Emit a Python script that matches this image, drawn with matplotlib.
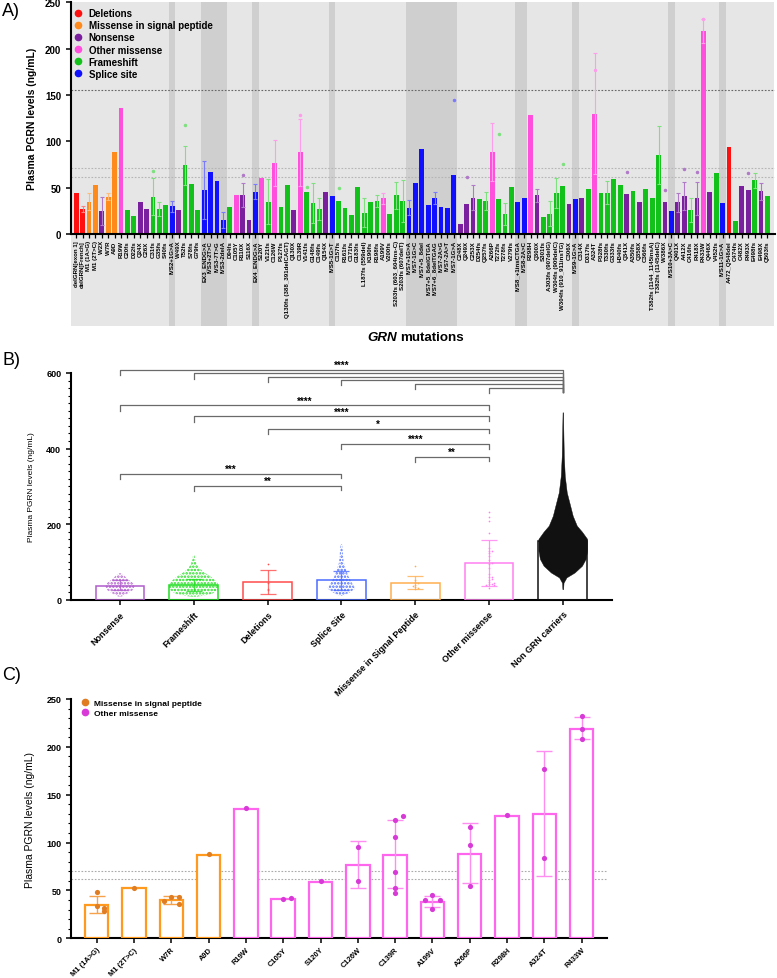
import numpy as np
import matplotlib
matplotlib.use('Agg')
import matplotlib.pyplot as plt
from matplotlib.lines import Line2D
from matplotlib.patches import Rectangle
import matplotlib.transforms as mtransforms

plt.rcParams['font.family'] = ['Liberation Sans', 'DejaVu Sans']
plt.rcParams['hatch.linewidth'] = 1.2

# ---------------- panel A: all GRN mutations ----------------
mutations = [
    'delGRN[exon 1]', 'delGRN[French]', 'M1 (1A>G)', 'M1 (2T>C)', 'W2X', 'W7R', 'A9D', 'R19W',
    'C20fs', 'D22fs', 'Q24X', 'C26X', 'C31fs', 'G35fs', 'S40fs', 'IVS2+1G>A', 'W49X', 'T52fs',
    'S78fs', 'G79fs', 'EX3_ENDG>A', 'IVS3+2T>C', 'IVS3-7T>G', 'IVS3-2delA', 'D94fs', 'C105Y',
    'R110X', 'S116X', 'EX4_ENDG>A', 'S120Y', 'V121fs', 'C126W', 'P127fs',
    'Q130fs (388_391delCAGT)', 'Q130X', 'C139R', 'V141fs', 'G148fs', 'C149fs', 'Q154X',
    'IVS5-1G>T', 'C157fs', 'R161fs', 'C171fs', 'G183fs', 'L187fs (559del)', 'K190fs', 'R198fs',
    'A199V', 'V200fs', 'S203fs (603_604ins-C)', 'S203fs (607delT)', 'IVS7+1G>A', 'IVS7-1G>C',
    'IVS7+5_8del', 'IVS7+5_8delGTGA', 'IVS7+6_8delTGAG', 'IVS7-2A>G', 'IVS7-2A>T', 'IVS7-1G>A',
    'C248X', 'Q249X', 'C253X', 'D254fs', 'Q257fs', 'A266P', 'T272fs', 'T278fs', 'V279fs',
    'IVS8_+1insCTGA', 'IVS8-2A>C', 'R298H', 'Q300X', 'S301fs', 'A303fs (907delG)',
    'W304fs (909delC)', 'W304fs (910_911insTG)', 'C306X', 'IVS9-1G>A', 'C314X', 'D317fs',
    'A324T', 'P328fs', 'T330fs', 'G333fs', 'H340fs', 'Q341X', 'A350fs', 'Q358X', 'C366fs',
    'T382fs (1144_1145insA)', 'T382fs (1145delC)', 'W386X', 'IVS10+3A>C', 'Q401X', 'A412X',
    'C416fs', 'R418X', 'R433W', 'Q446X', 'V452fs', 'IVS11-1G>A', 'A472_Q548del', 'C474fs',
    'C482X', 'R493X', 'E498fs', 'E498X', 'Q503fs',
]
mut_type = ('D D M M N M M O F F '
            'N N F F F S N F F F '
            'S S S S F O N N S O '
            'F O F F N O F F F N '
            'S F F F F F F F O F '
            'F F S S S S S S S S '
            'N N N F F O F F F S '
            'S O N F F F F N S N '
            'F O F F F F N F N F '
            'F F N S N N F N O N '
            'F S D F N N F N F').split()
mut_mean = [44, 27, 35, 53, 25, 40, 88, 136, 26, 19.5,
            34, 27.5, 40, 27, 31.5, 30, 26, 74, 54, 26,
            47.5, 67, 57.5, 15.5, 29, 42, 42, 15, 45.7, 60,
            35, 77, 29.5, 53, 25.5, 88, 45, 33.5, 27, 45,
            41.4, 36, 27.7, 20, 51, 23, 35, 35.6, 38.5, 22,
            41.7, 36, 28.4, 54.7, 92, 31.6, 39, 29, 28, 64,
            11, 32.7, 39, 38, 35.6, 88.5, 38, 21.6, 50.7, 34.5,
            38.5, 128, 41.7, 18, 22, 44, 52, 32.7, 37.4, 39,
            48.5, 130, 44, 44.6, 59, 53, 43.5, 46, 35, 48.5,
            39, 85, 34, 25, 34, 41, 25.5, 38.5, 219, 45,
            65.5, 33.5, 94, 14, 52, 48, 58, 46, 41]
# upper end of the SD bar, 0 = no bar drawn
mut_err_hi = [0, 30, 44, 0, 40, 43.7, 0, 0, 0, 0,
              0, 0, 60, 35, 0, 36, 0, 95, 0, 0,
              79, 0, 0, 24, 0, 0, 55, 0, 54, 0,
              59, 101.7, 0, 0, 0, 123.7, 0, 54.6, 38.5, 0,
              0, 0, 0, 0, 0, 38.5, 0, 42, 44.6, 0,
              56.5, 58.6, 36.3, 0, 0, 0, 45.3, 0, 0, 0,
              0, 0, 52.5, 0, 45, 120, 0, 33, 0, 0,
              0, 0, 49, 0, 35.6, 60, 0, 0, 0, 0,
              0, 195.5, 0, 57, 0, 0, 0, 0, 0, 0,
              0, 116, 0, 0, 44.6, 56.5, 38.5, 56, 231.5, 0,
              0, 0, 0, 0, 0, 0, 66, 55, 0]
# highest single patient value where it sits above the SD bar
mut_top_pt = {12: 68, 17: 118, 26: 64, 36: 51, 41: 50, 59: 145, 61: 62, 66: 108,
              76: 75, 86: 67, 92: 48, 95: 70, 97: 67, 105: 66, 98: 232, 35: 128, 81: 177}

type_names = {'D': 'Deletions', 'M': 'Missense in signal peptide', 'N': 'Nonsense',
              'O': 'Other missense', 'F': 'Frameshift', 'S': 'Splice site'}
type_order = ['D', 'M', 'N', 'O', 'F', 'S']
type_color = {'D': '#ff1010', 'M': '#ff8a1c', 'N': '#7a1f9e', 'O': '#ff4fdc',
              'F': '#12c21a', 'S': '#1010ff'}
type_light = {'D': '#ff8080', 'M': '#ffbb77', 'N': '#b07ac8', 'O': '#ff9cec',
              'F': '#7ee07e', 'S': '#7a7aff'}

# ---------------- panel B: groups ----------------
groups = ['Nonsense', 'Frameshift', 'Deletions', 'Splice Site',
          'Missense in Signal Peptide', 'Other missense', 'Non GRN carriers']
group_mean = [37, 39, 48, 51, 43, 97, 155]
group_sd_lo = [25.6, 24, 15, 26.5, 28, 37, 148]
group_sd_hi = [52, 56, 79.4, 77, 62, 157, 163]
group_edge = ['#b05ccc', '#22dd22', '#ff4c4c', '#4a6bff', '#ffae4f', '#ff7ff0', '#111111']

# swarm outline (value, half width in group units)
nons_y = [8, 15, 25, 35, 45, 55, 65, 70]
nons_hw = [0.02, 0.09, 0.17, 0.2, 0.17, 0.1, 0.05, 0.01]
fs_y = [8, 15, 25, 35, 45, 55, 65, 75, 90, 105, 118]
fs_hw = [0.05, 0.24, 0.32, 0.34, 0.32, 0.27, 0.2, 0.12, 0.05, 0.02, 0.01]
spl_y = [10, 20, 30, 45, 60, 80, 100, 125, 147]
spl_hw = [0.02, 0.12, 0.19, 0.14, 0.1, 0.06, 0.03, 0.02, 0.01]
ng_y = [28, 45, 59, 72, 90, 108, 130, 161, 180, 196, 222, 249, 284, 328, 381, 443, 496]
ng_hw = [0.005, 0.01, 0.05, 0.16, 0.26, 0.31, 0.33, 0.33, 0.26, 0.19, 0.135, 0.1,
         0.054, 0.027, 0.014, 0.008, 0.003]
del_pts = [44, 25, 29, 94]

# (from, to, bracket height, stars)
brackets = [(0, 6, 609, '****'), (1, 6, 599, ''), (2, 6, 590, ''), (3, 6, 582, ''),
            (4, 6, 571, ''), (5, 6, 561, ''),
            (0, 5, 514, '****'), (1, 5, 485, '****'), (2, 5, 453, '*'),
            (3, 5, 412, '****'), (4, 5, 379, '**'),
            (0, 3, 333, '***'), (1, 3, 302, '**')]

# ---------------- panel C: missense mutations ----------------
miss_labels = ['M1 (1A>G)', 'M1 (2T>C)', 'W7R', 'A9D', 'R19W', 'C105Y', 'S120Y', 'C126W',
               'C139R', 'A199V', 'A266P', 'R298H', 'A324T', 'R433W']
miss_type = ['M', 'M', 'M', 'M', 'O', 'O', 'O', 'O', 'O', 'O', 'O', 'O', 'O', 'O']
miss_mean = [34.6, 52.8, 39.5, 86.8, 135, 40.8, 59.2, 77, 87, 38.3, 88.5, 128, 130, 218.8]
miss_err_lo = [26.5, 0, 36, 0, 0, 0, 0, 52.6, 52.3, 33, 58, 0, 65.5, 208]
miss_err_hi = [44, 0, 43.7, 0, 0, 0, 0, 101.7, 123.7, 44.6, 120, 0, 195.5, 231.5]
miss_pts = [[48, 34, 32, 28], [53], [43, 43, 39, 36], [88], [136], [41.5, 41.8], [60],
            [95, 60], [124, 128, 106, 69, 53, 47], [45, 40, 40, 31], [116, 97, 55], [129],
            [177, 84], [232, 218.5, 208]]


def swarm_offsets(vals, step, tol):
    placed = []
    offs = []
    for v in vals:
        k = sum(1 for y in placed if abs(y - v) < tol)
        off = 0 if k == 0 else ((k + 1) // 2) * step * (1 if k % 2 else -1)
        placed.append(v)
        offs.append(off)
    return offs


W, H = 777, 979
fig = plt.figure(figsize=(W / 100, H / 100), dpi=100)


def px_axes(left, top, right, bottom):
    return fig.add_axes([left / W, 1 - bottom / H, (right - left) / W, (bottom - top) / H])


def style_axis(ax, lw=1.5):
    for s in ['top', 'right']:
        ax.spines[s].set_visible(False)
    for s in ['left', 'bottom']:
        ax.spines[s].set_linewidth(lw)
    ax.tick_params(width=1.1, length=3.5, direction='out')


# ===== A =====
axA = px_axes(71, 3.3, 775, 235)
axA.patch.set_visible(False)
n = len(mutations)
x = np.arange(n)
blend = mtransforms.blended_transform_factory(axA.transData, axA.transAxes)
axA.add_patch(Rectangle((-0.8, -0.397), n + 0.8, 1.397, transform=blend,
                        facecolor='#e6e6e6', edgecolor='none', clip_on=False, zorder=0))
for i, t in enumerate(mut_type):
    if t == 'S':
        axA.add_patch(Rectangle((i - 0.5, -0.397), 1, 1.397, transform=blend,
                                facecolor='#cfcfcf', edgecolor='none', clip_on=False, zorder=0))
cols = [type_color[t] for t in mut_type]
axA.bar(x, mut_mean, width=0.75, color=cols, zorder=2)
for i in range(n):
    t = mut_type[i]
    if mut_err_hi[i] > 0:
        lo = max(0, 2 * mut_mean[i] - mut_err_hi[i])
        axA.errorbar(i, mut_mean[i], yerr=[[mut_mean[i] - lo], [mut_err_hi[i] - mut_mean[i]]],
                     fmt='none', ecolor=type_light[t], elinewidth=0.8, capsize=1.2,
                     capthick=0.8, zorder=3)
    if i in mut_top_pt:
        axA.plot(i, mut_top_pt[i], 'o', ms=1.5, color=type_light[t], zorder=4)
for yv, c in [(155, '#666666'), (71, '#b5b5b5'), (61, '#b5b5b5')]:
    axA.axhline(yv, color=c, lw=0.8, ls=(0, (1.5, 1.5)), zorder=1)
axA.set_xlim(-0.8, n + 0.2)
axA.set_ylim(0, 250)
axA.set_yticks(range(0, 251, 50))
axA.set_xticks(x)
axA.set_xticklabels(mutations, rotation=90, fontsize=4.4, fontweight='bold')
for lab in axA.get_yticklabels():
    lab.set_fontweight('bold')
    lab.set_fontsize(7)
style_axis(axA)
axA.tick_params(axis='x', length=3, width=0.9, pad=1.5)
axA.set_ylabel('Plasma PGRN levels (ng/mL)', fontsize=7.5, fontweight='bold', labelpad=6)
handles = [Line2D([], [], marker='o', ls='none', color=type_color[t], ms=4.5) for t in type_order]
axA.legend(handles, [type_names[t] for t in type_order], loc='upper left',
           bbox_to_anchor=(-0.004, 1.0), frameon=False, prop={'weight': 'bold', 'size': 7},
           handlelength=0.8, handletextpad=0.7, labelspacing=0.22, borderaxespad=0.2)
fig.text(397 / W, 1 - 338 / H, 'GRN', fontsize=9.6, fontweight='bold', style='italic',
         ha='right', va='center')
fig.text(400 / W, 1 - 338 / H, 'mutations', fontsize=9.6, fontweight='bold',
         ha='left', va='center')
fig.text(2 / W, 1 - 3 / H, 'A)', fontsize=13, ha='left', va='top')

# ===== B =====
axB = px_axes(71, 374, 612, 600.7)
gx = np.arange(len(groups))
axB.bar(gx, group_mean, width=0.66, facecolor='none', edgecolor=group_edge, linewidth=1.1, zorder=3)
for env_i, ys, hw in [(0, nons_y, nons_hw), (1, fs_y, fs_hw), (3, spl_y, spl_hw)]:
    ys = np.array(ys, float)
    hw = np.array(hw)
    axB.fill_betweenx(ys, env_i - hw, env_i + hw, facecolor='none', edgecolor=group_edge[env_i],
                      linewidth=0, hatch='.....', zorder=2)
ys = np.array(ng_y, float)
hw = np.array(ng_hw)
axB.fill_betweenx(ys, 6 - hw, 6 + hw, color='#111111', linewidth=0.3, zorder=2)
pts_sets = [(2, del_pts)]
msp = [v for p, t in zip(miss_pts, miss_type) if t == 'M' for v in p]
om = [v for p, t in zip(miss_pts, miss_type) if t == 'O' for v in p]
pts_sets += [(4, msp), (5, om)]
for gi, vals in pts_sets:
    offs = swarm_offsets(vals, 0.035, 4)
    axB.scatter(gi + np.array(offs), vals, s=1.5, color=group_edge[gi], zorder=4, linewidths=0)
for i in range(len(groups)):
    axB.errorbar(i, group_mean[i], yerr=[[group_mean[i] - group_sd_lo[i]],
                                         [group_sd_hi[i] - group_mean[i]]],
                 fmt='none', ecolor=group_edge[i], elinewidth=0.9, capsize=5.5, capthick=0.9,
                 zorder=5, alpha=0.8)
for a, b, h, stars in brackets:
    right_end = 549 if b == 6 else h - 12
    axB.plot([a, a, b, b], [h - 14, h, h, right_end], color='#6a6a6a', lw=0.9,
             clip_on=False, zorder=6)
    if stars:
        axB.text((a + b) / 2, h + 13, stars, ha='center', va='center', fontsize=7,
                 fontweight='bold', clip_on=False)
axB.set_xlim(-0.664, 6.667)
axB.set_ylim(0, 600)
axB.set_yticks(range(0, 601, 200))
axB.set_yticks(range(0, 601, 20), minor=True)
axB.tick_params(axis='y', which='minor', length=2, width=0.8)
axB.set_xticks(gx)
axB.set_xticklabels(groups, rotation=45, ha='right', rotation_mode='anchor',
                    fontsize=6.4, fontweight='bold')
for lab in axB.get_yticklabels():
    lab.set_fontweight('bold')
    lab.set_fontsize(6.5)
style_axis(axB)
axB.set_ylabel('Plasma PGRN levels (ng/mL)', fontsize=6, labelpad=8)
fig.text(2 / W, 1 - 352 / H, 'B)', fontsize=13, ha='left', va='top')

# ===== C =====
axC = px_axes(71, 700, 607, 939.3)
cx = np.arange(len(miss_labels))
edge_c = {'M': '#ff9a1e', 'O': '#ff66ee'}
dot_c = {'M': '#e07d22', 'O': '#d83ad8'}
err_c = {'M': '#f5a24a', 'O': '#ff8cf0'}
axC.bar(cx, miss_mean, width=0.63, facecolor='white',
        edgecolor=[edge_c[t] for t in miss_type], linewidth=1.6, zorder=3)
for i in range(len(miss_labels)):
    t = miss_type[i]
    if miss_err_hi[i] > 0:
        axC.errorbar(i, miss_mean[i], yerr=[[miss_mean[i] - miss_err_lo[i]],
                                            [miss_err_hi[i] - miss_mean[i]]],
                     fmt='none', ecolor=err_c[t], elinewidth=1.0, capsize=6, capthick=1.0, zorder=4)
    offs = swarm_offsets(miss_pts[i], 0.2, 6)
    axC.scatter(i + np.array(offs), miss_pts[i], s=14, color=dot_c[t], zorder=5, linewidths=0)
for yv in [70.4, 61.7]:
    axC.axhline(yv, color='#aaaaaa', lw=0.8, ls=(0, (1.5, 1.5)), zorder=1)
axC.set_xlim(-0.69, 13.68)
axC.set_ylim(0, 250)
axC.set_yticks(range(0, 251, 50))
axC.set_yticks(range(0, 251, 10), minor=True)
axC.tick_params(axis='y', which='minor', length=2, width=0.8)
axC.set_xticks(cx)
axC.set_xticklabels(miss_labels, rotation=45, ha='right', rotation_mode='anchor',
                    fontsize=5.4, fontweight='bold')
axC.tick_params(axis='x', pad=2)
for lab in axC.get_yticklabels():
    lab.set_fontweight('bold')
    lab.set_fontsize(6.5)
style_axis(axC)
axC.set_ylabel('Plasma PGRN levels (ng/mL)', fontsize=7.5, labelpad=8)
handles = [Line2D([], [], marker='o', ls='none', color=dot_c[t], ms=4.5) for t in ['M', 'O']]
axC.legend(handles, ['Missense in signal peptide', 'Other missense'], loc='upper left',
           bbox_to_anchor=(0.01, 1.02), frameon=False, prop={'weight': 'bold', 'size': 6},
           handlelength=0.8, handletextpad=0.7, labelspacing=0.3, borderaxespad=0.2)
fig.text(2 / W, 1 - 667 / H, 'C)', fontsize=13, ha='left', va='top')

fig.savefig('out.png', dpi=100)
